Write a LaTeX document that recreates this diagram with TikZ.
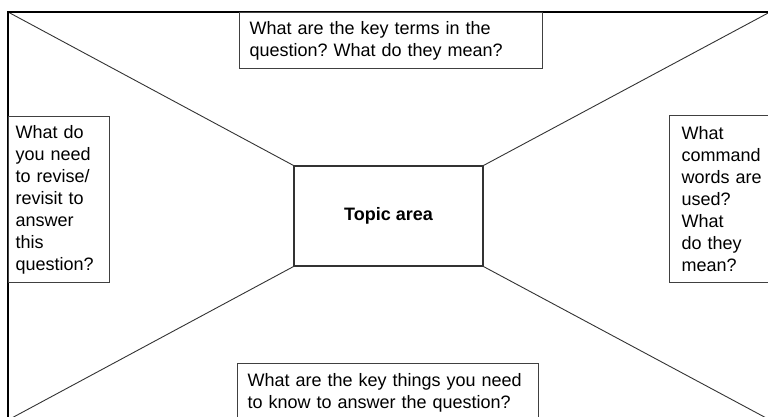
\documentclass[tikz,border=0pt]{standalone}
\usepackage{fontspec}
\setmainfont{Liberation Sans}
\frenchspacing
\tikzset{
  qbox/.style={draw=black!75, line width=1.1pt, fill=white, align=left, anchor=north west,
    inner ysep=0pt, font=\fontsize{18}{22}\selectfont},
  ray/.style={draw=black!80, line width=0.9pt},
}
\begin{document}
\begin{tikzpicture}[x=1pt,y=-1pt]
    \useasboundingbox (0,0) rectangle (768,416);
    \clip (0,0) rectangle (768,416);
    \coordinate (tl) at (8,12);
    \coordinate (tr) at (770,12);
    \coordinate (bl) at (8,420);
    \coordinate (br) at (770,420);
    \node[draw=black!80, line width=1.1pt, minimum width=189, minimum height=100, inner sep=0pt,
      font=\fontsize{18}{22}\selectfont\bfseries] (topic) at (388.5,216) {Topic area};
    \draw[ray] (tl) -- (topic.north west);
    \draw[ray] (tr) -- (topic.north east);
    \draw[ray] (bl) -- (topic.south west);
    \draw[ray] (br) -- (topic.south east);
    \draw[line width=2pt] (tl) rectangle (br);
    \node[qbox, minimum width=303, minimum height=56, inner xsep=10, text width=283] (terms) at (239,12)
      {What are the key terms in the\\question? What do they mean?};
    \node[qbox, minimum width=101, minimum height=166, inner xsep=7, text width=87] (revise) at (8,116)
      {What do\\you need\\to revise/\\revisit to\\answer\\this\\question?};
    \node[qbox, minimum width=120, minimum height=167, inner xsep=12, text width=96] (command) at (669,115)
      {What\\command\\words are\\used?\\What\\do they\\mean?};
    \node[qbox, minimum width=301, inner xsep=10, inner ysep=10, text width=281] (know) at (237,363)
      {What are the key things you need\\to know to answer the question?};
\end{tikzpicture}
\end{document}
